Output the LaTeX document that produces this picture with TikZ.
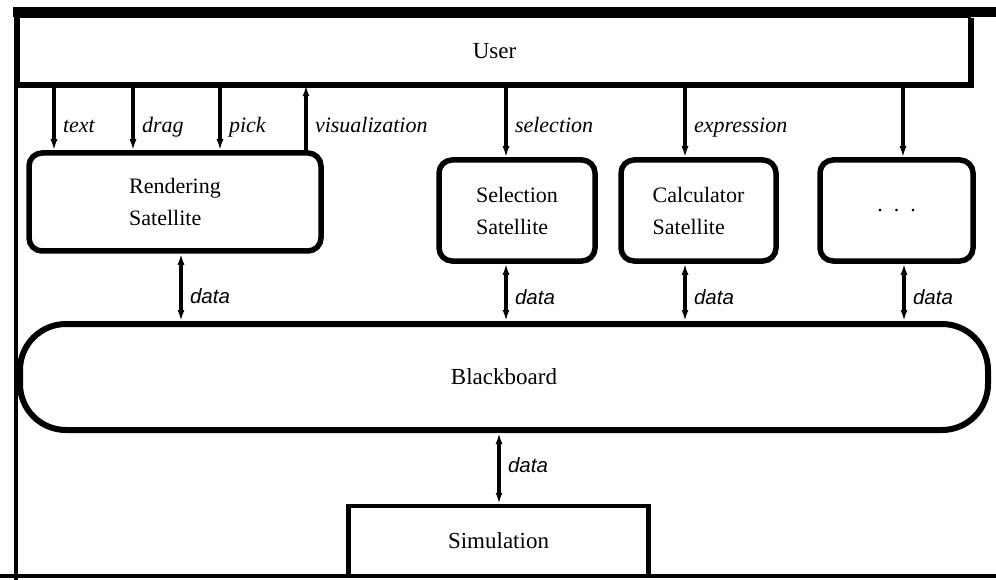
\documentclass[tikz,border=0pt]{standalone}
\usepackage{fontspec}
\setmainfont{Liberation Serif}
\newfontfamily\datafont{Liberation Sans}
\usetikzlibrary{arrows.meta,positioning}

\tikzset{
  sat/.style={draw,line width=5.5pt,rounded corners=13pt,align=left,
    font=\fontsize{22}{32}\selectfont},
  flow/.style={line width=3.4pt},
  lab/.style={right=4pt,yshift=-5pt,text height=1.5ex,text depth=.25ex,
    font=\fontsize{22}{24}\selectfont\itshape},
  datalab/.style={right=4pt,yshift=-5pt,text height=1.5ex,text depth=.25ex,
    font=\fontsize{20.5}{24}\selectfont\datafont\itshape}
}

\begin{document}
\begin{tikzpicture}[x=1pt,y=-1pt,>={Latex[length=11pt,width=7pt]},font=\fontsize{23}{26}\selectfont]
  \useasboundingbox (0,0) rectangle (996,580);
  % window frame
  \draw[line width=10pt] (13,12) -- (996,12);
  \draw[line width=4pt] (15.5,7) -- (15.5,580);
  \draw[line width=4pt] (0,576) -- (996,576);

  \node[draw,line width=1.5pt,minimum width=951,minimum height=67] (user) at (494.5,51) {User};
  \draw[line width=6pt] (user.south west) -- (user.south east) -- ([yshift=-1pt]user.north east);

  \node[sat,minimum width=292,minimum height=98] (rend) at (175,202) {Rendering\\Satellite};
  \node[sat,minimum width=156,minimum height=101] (sel) at (517,210.5) {Selection\\Satellite};
  \node[sat,minimum width=155,minimum height=101] (calc) at (698.5,210.5) {Calculator\\Satellite};
  \node[sat,minimum width=153,minimum height=101] (more) at (896.5,210.5) {.\ \ .\ \ .};

  \node[draw,line width=6pt,rounded corners=46pt,minimum width=968,minimum height=106] (board) at (504,377) {Blackboard};
  \node[draw,line width=4.5pt,minimum width=300,minimum height=70] (sim) at (498.5,541) {Simulation};

  % user input and output
  \foreach \x/\lab in {54/text,133/drag,220/pick}
    \draw[flow,->] (user.south -| \x,0) -- (rend.north -| \x,0) node[lab,pos=.6] {\lab};
  \draw[flow,->] (rend.north -| 306,0) -- (user.south -| 306,0) node[lab,pos=.4] {visualization};
  \draw[flow,->] (user.south -| 506,0) -- (sel.north -| 506,0) node[lab,pos=.55] {selection};
  \draw[flow,->] (user.south -| 685,0) -- (calc.north -| 685,0) node[lab,pos=.55] {expression};
  \draw[flow,->] (user.south -| 903,0) -- (more.north -| 903,0);

  % blackboard traffic
  \draw[flow,<->] (rend.south -| 181,0) -- (board.north -| 181,0) node[datalab,pos=.63] {data};
  \draw[flow,<->] (sel.south -| 506,0) -- (board.north -| 506,0) node[datalab,pos=.58] {data};
  \draw[flow,<->] (calc.south -| 685,0) -- (board.north -| 685,0) node[datalab,pos=.58] {data};
  \draw[flow,<->] (more.south -| 904,0) -- (board.north -| 904,0) node[datalab,pos=.58] {data};
  \draw[flow,<->] (board.south -| 499,0) -- (sim.north -| 499,0) node[datalab,pos=.45] {data};
\end{tikzpicture}
\end{document}
